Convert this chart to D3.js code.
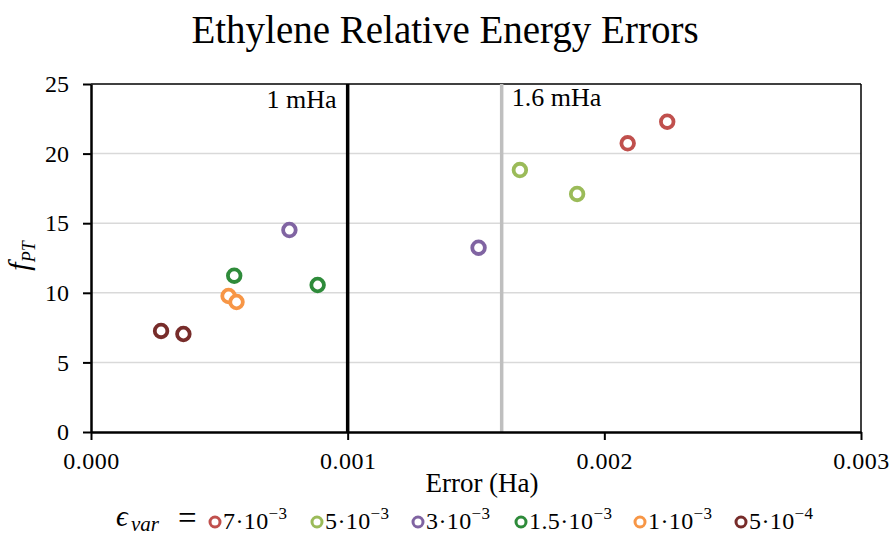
<!DOCTYPE html>
<html><head><meta charset="utf-8">
<script src="https://cdn.jsdelivr.net/npm/d3@7"></script>
<style>body{margin:0;background:#fff}</style>
</head><body>
<svg id="c" width="892" height="537"></svg>
<script>
const seriesNames = ["7·10⁻³","5·10⁻³","3·10⁻³","1.5·10⁻³","1·10⁻³","5·10⁻⁴"];
const seriesMant = ["7","5","3","1.5","1","5"];
const seriesExp = ["−3","−3","−3","−3","−3","−4"];
const seriesColors = ["#C0504D","#9BBB59","#8064A2","#2E8B3A","#F79646","#772C2A"];
const errX = [
  [0.002091, 0.002245],
  [0.001671, 0.001894],
  [0.000773, 0.001510],
  [0.000558, 0.000883],
  [0.000536, 0.000567],
  [0.000273, 0.000360]
];
const fPT = [
  [20.74, 22.29],
  [18.82, 17.10],
  [14.51, 13.24],
  [11.23, 10.56],
  [9.77, 9.34],
  [7.26, 7.04]
];
const xTicks = [0, 0.001, 0.002, 0.003];
const yTicks = [0, 5, 10, 15, 20, 25];
const refLines = [{v:0.001, label:"1 mHa"}, {v:0.0016, label:"1.6 mHa"}];

const svg = d3.select("#c");
const font = "'Liberation Serif', serif";
const L = 91, R = 861, T = 84, B = 432;
const x = d3.scaleLinear().domain([0, 0.003]).range([L, R]);
const y = d3.scaleLinear().domain([0, 25]).range([B, T]);

// title
svg.append("text").attr("x", 445).attr("y", 43).attr("text-anchor","middle")
  .attr("font-family", font).attr("font-size", 39).text("Ethylene Relative Energy Errors");

// gridlines
svg.append("g").selectAll("line").data(yTicks.filter(d=>d>0 && d<25)).join("line")
  .attr("x1", L).attr("x2", R).attr("y1", d=>y(d)).attr("y2", d=>y(d))
  .attr("stroke", "#D9D9D9").attr("stroke-width", 1.5);

// border top/right
svg.append("line").attr("x1",L).attr("x2",R).attr("y1",T).attr("y2",T).attr("stroke","#000").attr("stroke-width",1.5);
svg.append("line").attr("x1",R).attr("x2",R).attr("y1",T).attr("y2",B).attr("stroke","#000").attr("stroke-width",1.5);

// ref lines
svg.append("line").attr("x1", x(refLines[1].v)).attr("x2", x(refLines[1].v)).attr("y1", T).attr("y2", B)
  .attr("stroke", "#BFBFBF").attr("stroke-width", 3.5);
svg.append("line").attr("x1", x(refLines[0].v)).attr("x2", x(refLines[0].v)).attr("y1", T).attr("y2", B)
  .attr("stroke", "#000").attr("stroke-width", 3.5);
svg.append("text").attr("x", x(refLines[0].v) - 11).attr("y", 108).attr("text-anchor","end")
  .attr("font-family", font).attr("font-size", 26).text(refLines[0].label);
svg.append("text").attr("x", x(refLines[1].v) + 10).attr("y", 106).attr("text-anchor","start")
  .attr("font-family", font).attr("font-size", 26).text(refLines[1].label);

// axes
const xAxis = d3.axisBottom(x).tickValues(xTicks).tickFormat(d3.format(".3f")).tickSize(8).tickSizeOuter(0);
const gx = svg.append("g").attr("transform", `translate(0,${B})`).call(xAxis);
gx.select(".domain").attr("stroke","#000").attr("stroke-width",2.5);
gx.selectAll(".tick line").attr("stroke","#000").attr("stroke-width",2);
gx.selectAll(".tick text").attr("font-family", font).attr("font-size", 24).attr("fill","#000")
  .attr("letter-spacing", 0.5).attr("y", 37).attr("dy", 0);

const yAxis = d3.axisLeft(y).tickValues(yTicks).tickSize(8).tickSizeOuter(0);
const gy = svg.append("g").attr("transform", `translate(${L},0)`).call(yAxis);
gy.select(".domain").attr("stroke","#000").attr("stroke-width",2.5);
gy.selectAll(".tick line").attr("stroke","#000").attr("stroke-width",2);
gy.selectAll(".tick text").attr("font-family", font).attr("font-size", 24).attr("fill","#000").attr("x", -22);

// axis titles
svg.append("text").attr("x", 482).attr("y", 492).attr("text-anchor","middle")
  .attr("font-family", font).attr("font-size", 27).text("Error (Ha)");
const yl = svg.append("text").attr("transform","translate(29,256) rotate(-90)").attr("text-anchor","middle")
  .attr("font-family", font).attr("font-style","italic").attr("font-size", 30);
yl.append("tspan").text("f");
yl.append("tspan").attr("font-size", 18).attr("dy", 6).text("PT");

// points
seriesNames.forEach((n, i) => {
  const pts = errX[i].map((e, j) => ({x: e, y: fPT[i][j]}));
  svg.append("g").selectAll("circle").data(pts).join("circle")
    .attr("cx", d=>x(d.x)).attr("cy", d=>y(d.y)).attr("r", 6.3)
    .attr("fill", "#fff").attr("stroke", seriesColors[i]).attr("stroke-width", 3.8);
});

// legend
const lg = svg.append("g");
lg.append("text").attr("x", 116).attr("y", 526).attr("font-family", font).attr("font-size", 29)
  .attr("font-style","italic").text("ϵ");
lg.append("text").attr("x", 131).attr("y", 531).attr("font-family", font).attr("font-size", 21)
  .attr("font-style","italic").text("var");
lg.append("text").attr("x", 178).attr("y", 529).attr("font-family", font).attr("font-size", 33).text("=");
const legX = [215, 317, 418, 521, 640, 741];
seriesNames.forEach((n, i) => {
  lg.append("circle").attr("cx", legX[i]).attr("cy", 522).attr("r", 5)
    .attr("fill","#fff").attr("stroke", seriesColors[i]).attr("stroke-width", 3);
  const t = lg.append("text").attr("x", legX[i] + 8).attr("y", 529).attr("font-family", font)
    .attr("font-size", 24).attr("letter-spacing", 0.4);
  t.append("tspan").text(seriesMant[i] + "·10");
  t.append("tspan").attr("font-size", 17).attr("dy", -10).text(seriesExp[i]);
});
</script>
</body></html>
